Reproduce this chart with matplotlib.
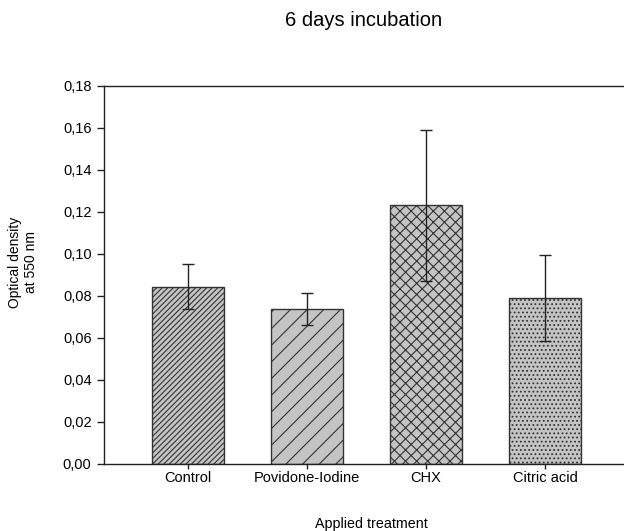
import matplotlib.pyplot as plt

plt.rcParams['font.family'] = ['Liberation Sans', 'DejaVu Sans']
plt.rcParams['hatch.linewidth'] = 0.8

treatments = ['Control', 'Povidone-Iodine', 'CHX', 'Citric acid']
density = [0.0843, 0.0738, 0.1232, 0.0789]
errors = [0.0107, 0.0074, 0.0360, 0.0205]
hatches = ['//////', '//', 'xxx', '....']
yticks = [0.00, 0.02, 0.04, 0.06, 0.08, 0.10, 0.12, 0.14, 0.16, 0.18]

fig = plt.figure(figsize=(6.24, 5.31), dpi=100)
ax = fig.add_axes([0.1667, 0.1262, 0.8333, 0.7119])

x = range(len(treatments))
for i in x:
    ax.bar(i, density[i], width=0.6, color='#c4c4c4', edgecolor='#333333',
           linewidth=1.0, hatch=hatches[i], zorder=2)
ax.errorbar(list(x), density, yerr=errors, fmt='none', ecolor='#222222',
            elinewidth=1.0, capsize=4, capthick=1.0, zorder=3)

ax.set_xlim(-0.706, 3.664)
ax.set_ylim(0, 0.18)
ax.set_yticks(yticks)
ax.set_yticklabels([f'{v:.2f}'.replace('.', ',') for v in yticks])
ax.set_xticks(list(x))
ax.set_xticklabels(treatments)
ax.tick_params(labelsize=10.5, width=1, color='#222222')
ax.tick_params(axis='y', length=5, pad=4)
ax.tick_params(axis='x', length=3.5, pad=1.5)
ax.spines['right'].set_visible(False)
for s in ['left', 'top', 'bottom']:
    ax.spines[s].set_linewidth(1.0)
    ax.spines[s].set_color('#222222')

fig.text(23 / 624, 1 - 262 / 531, 'Optical density\nat 550 nm', rotation=90,
         ha='center', va='center', multialignment='center', fontsize=10)
fig.text(0.595, 0.013, 'Applied treatment', ha='center', va='center', fontsize=10.3)
fig.text(0.582, 0.962, '6 days incubation', ha='center', va='center', fontsize=14.5)

plt.savefig('out.png', dpi=100)
